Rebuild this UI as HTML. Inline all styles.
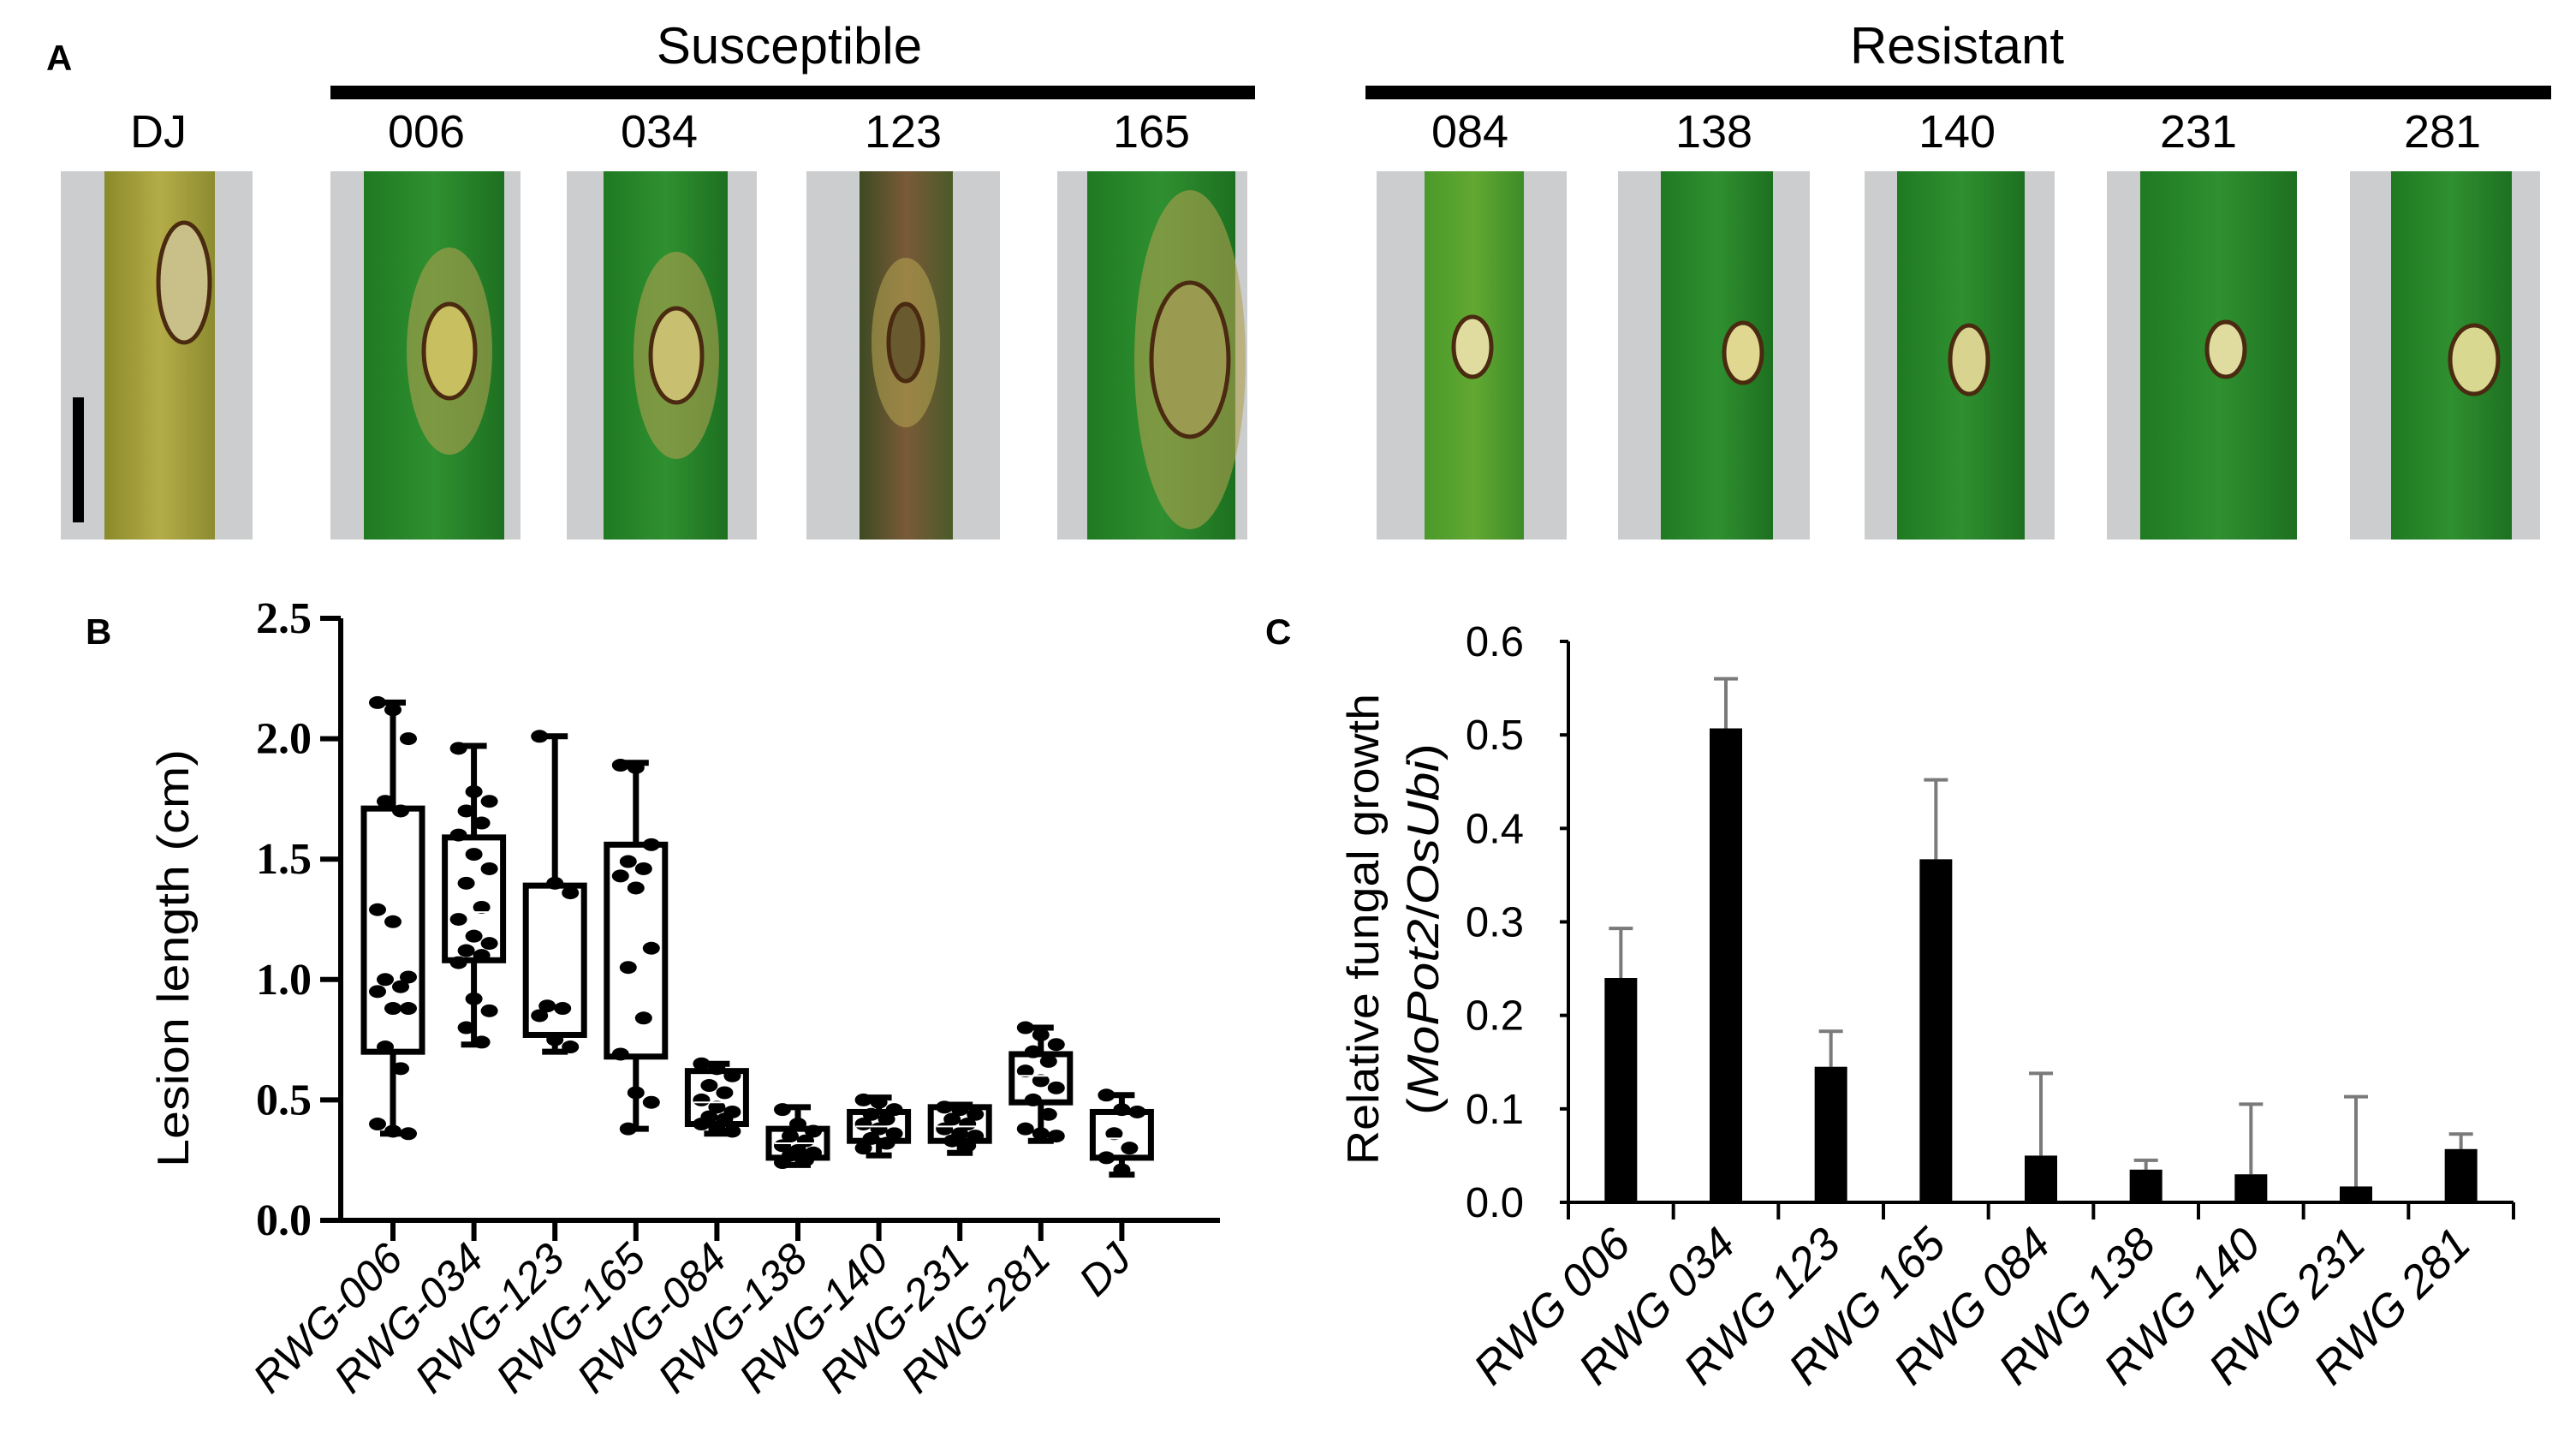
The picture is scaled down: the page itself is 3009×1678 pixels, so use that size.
<!DOCTYPE html>
<html><head><meta charset="utf-8">
<style>
html,body{margin:0;padding:0;background:#fff;}
svg{display:block;}
text{font-family:"Liberation Sans",Arial,sans-serif;}
.serif{font-family:"Liberation Serif","Times New Roman",serif;font-weight:bold;}
</style></head>
<body>
<svg id="fig" xmlns="http://www.w3.org/2000/svg" width="3009" height="1678" viewBox="0 0 3009 1678">
<defs>
<linearGradient id="gGreen" x1="0" x2="1" y1="0" y2="0">
<stop offset="0" stop-color="#1f7a22"/><stop offset="0.5" stop-color="#2f9030"/><stop offset="1" stop-color="#1d7020"/></linearGradient>
<linearGradient id="gLight" x1="0" x2="1"><stop offset="0" stop-color="#4a9a2a"/><stop offset="0.5" stop-color="#62a832"/><stop offset="1" stop-color="#3e8c28"/></linearGradient>
<linearGradient id="gYellow" x1="0" x2="1"><stop offset="0" stop-color="#8a8a2a"/><stop offset="0.5" stop-color="#b4ac48"/><stop offset="1" stop-color="#8c8c30"/></linearGradient>
<linearGradient id="gBrown" x1="0" x2="1"><stop offset="0" stop-color="#3d4a22"/><stop offset="0.5" stop-color="#7a5a38"/><stop offset="1" stop-color="#4a5a28"/></linearGradient>
</defs>

<g id="panelA">
<text x="54" y="82" font-size="42" font-weight="bold">A</text>
<text x="922" y="74" font-size="60" text-anchor="middle">Susceptible</text>
<rect x="386" y="100" width="1080" height="16" fill="#000"/>
<text x="2286" y="74" font-size="60" text-anchor="middle">Resistant</text>
<rect x="1595" y="100" width="1385" height="16" fill="#000"/>
<g id="leaves"></g>
</g>

<g id="panelB">
<text x="100" y="752" font-size="42" font-weight="bold">B</text>
<text transform="translate(220,1119) rotate(-90)" font-size="52" text-anchor="middle" textLength="488" lengthAdjust="spacingAndGlyphs">Lesion length  (cm)</text>
<g id="bAxes"></g>
<g id="bMarks"></g>
</g>

<g id="panelC">
<text x="1478" y="752" font-size="42" font-weight="bold">C</text>
<text transform="translate(1610,1085) rotate(-90)" font-size="52" text-anchor="middle" textLength="550" lengthAdjust="spacingAndGlyphs">Relative fungal growth</text>
<text transform="translate(1680,1085) rotate(-90)" font-size="52" text-anchor="middle" textLength="434" lengthAdjust="spacingAndGlyphs">(<tspan font-style="italic">MoPot2</tspan>/<tspan font-style="italic">OsUbi</tspan>)</text>
<g id="cAxes"></g>
<g id="cMarks"></g>
</g>
</svg>
<script>
// ---- Panel A data ----
const leafLabels = ["DJ","006","034","123","165","084","138","140","231","281"];
const leafLabelX = [185,498,770,1055,1345,1717,2002,2286,2568,2853];
// ---- Panel B data ----
const bCats = ["RWG-006","RWG-034","RWG-123","RWG-165","RWG-084","RWG-138","RWG-140","RWG-231","RWG-281","DJ"];
const bYTicks = ["0.0","0.5","1.0","1.5","2.0","2.5"];
const bMax = [2.15,1.97,2.01,1.90,0.65,0.47,0.51,0.48,0.80,0.52];
const bQ3  = [1.71,1.59,1.39,1.56,0.62,0.38,0.45,0.47,0.69,0.45];
const bMed = [1.13,1.28,1.10,1.20,0.49,0.32,0.39,0.39,0.60,0.34];
const bQ1  = [0.70,1.08,0.77,0.68,0.40,0.26,0.33,0.33,0.49,0.26];
const bMin = [0.36,0.73,0.70,0.38,0.36,0.23,0.27,0.28,0.33,0.19];
const bPoints = [
 [2.15,2.12,2.0,1.74,1.70,1.29,1.24,1.01,1.0,0.97,0.95,0.88,0.88,0.72,0.63,0.40,0.37,0.36],
 [1.96,1.78,1.74,1.70,1.65,1.60,1.52,1.46,1.40,1.30,1.25,1.18,1.15,1.12,1.10,1.07,0.92,0.87,0.80,0.74],
 [2.01,1.40,1.36,0.89,0.88,0.85,0.75,0.72],
 [1.89,1.88,1.56,1.49,1.46,1.43,1.38,1.13,1.05,0.84,0.69,0.53,0.49,0.38],
 [0.65,0.63,0.60,0.56,0.53,0.50,0.47,0.45,0.43,0.42,0.40,0.38,0.37],
 [0.46,0.40,0.37,0.35,0.33,0.31,0.29,0.28,0.27,0.25,0.24],
 [0.50,0.49,0.46,0.44,0.42,0.40,0.38,0.36,0.34,0.32,0.30],
 [0.47,0.46,0.44,0.42,0.40,0.38,0.36,0.35,0.33,0.31],
 [0.80,0.77,0.73,0.70,0.66,0.62,0.58,0.55,0.50,0.44,0.38,0.36,0.35],
 [0.52,0.46,0.45,0.36,0.30,0.26,0.21]
];
// ---- Panel C data ----
const cCats = ["RWG 006","RWG 034","RWG 123","RWG 165","RWG 084","RWG 138","RWG 140","RWG 231","RWG 281"];
const cYTicks = ["0.0","0.1","0.2","0.3","0.4","0.5","0.6"];
const cVals = [0.240,0.507,0.145,0.367,0.050,0.035,0.030,0.017,0.057];
const cErrTop = [0.293,0.560,0.183,0.452,0.138,0.045,0.105,0.113,0.073];

const NS="http://www.w3.org/2000/svg";
function mk(tag, attrs, parent){const e=document.createElementNS(NS,tag);for(const k in attrs)e.setAttribute(k,attrs[k]);parent.appendChild(e);return e;}

// ---- Panel A drawing ----
(function(){
 const g=document.getElementById('leaves');
 const panels=[[71,295,122,251,'gYellow'],[386,608,425,589,'gGreen'],[662,884,705,850,'gGreen'],[942,1168,1004,1113,'gBrown'],[1235,1457,1270,1443,'gGreen'],[1608,1830,1664,1780,'gLight'],[1890,2114,1940,2071,'gGreen'],[2178,2400,2216,2365,'gGreen'],[2461,2683,2500,2683,'gGreen'],[2745,2967,2793,2934,'gGreen']];
 const lesion=[[215,330,30,70,'#c8c088'],[525,410,30,55,'#c8c060'],[790,415,30,55,'#c8c070'],[1058,400,20,45,'#6a5a30'],[1390,420,45,90,'#9a9a50'],[1720,405,22,35,'#e0dca0'],[2036,412,22,35,'#e0d890'],[2300,420,22,40,'#d8d490'],[2600,408,22,32,'#e0dca0'],[2890,420,28,40,'#d8d890']];
 leafLabels.forEach((lab,i)=>{
  const p=panels[i];
  const pg=mk('g',{},g);
  
  
  mk('rect',{x:p[0],y:200,width:p[1]-p[0],height:430,fill:'#cbcdce'},pg);
  mk('rect',{x:p[2],y:200,width:p[3]-p[2],height:430,fill:'url(#'+p[4]+')'},pg);
  const l=lesion[i];
  if(i>=1&&i<=4) mk('ellipse',{cx:l[0],cy:l[1],rx:l[2]+20,ry:l[3]*2.2,fill:'#b0a050',opacity:0.6},pg);
  mk('ellipse',{cx:l[0],cy:l[1],rx:l[2],ry:l[3],fill:l[4],stroke:'#4a2a10','stroke-width':5},pg);
  const t=mk('text',{x:leafLabelX[i],y:172,'font-size':54,'text-anchor':'middle'},g);
  t.textContent=lab;
  
  
 });
 const sb=mk('rect',{x:85,y:464,width:13,height:146,fill:'#000'},g);
 
 
})();

// ---- Panel B drawing ----
(function(){
 const ax=document.getElementById('bAxes'), mg=document.getElementById('bMarks');
 const x0=398, xEnd=1425, y0=1425, yTop=722, vMax=2.5;
 const ys=v=>y0-(v/vMax)*(y0-yTop);
 const xs=i=>459+i*94.6;
 const ya=mk('line',{x1:x0,y1:yTop,x2:x0,y2:y0+2,stroke:'#000','stroke-width':6},ax);
 
 
 const xa=mk('line',{x1:x0-3,y1:y0,x2:xEnd,y2:y0,stroke:'#000','stroke-width':6},ax);
 
 
 bYTicks.forEach(t=>{
  const y=ys(parseFloat(t));
  mk('line',{x1:x0-24,y1:y,x2:x0,y2:y,stroke:'#000','stroke-width':6},ax);
  const tx=mk('text',{x:x0-34,y:y+17,'font-size':52,'text-anchor':'end',class:'serif'},ax);
  tx.textContent=t;
  
  
 });
 bCats.forEach((c,i)=>{
  const x=xs(i);
  mk('line',{x1:x,y1:y0,x2:x,y2:y0+24,stroke:'#000','stroke-width':6},ax);
  const tx=mk('text',{transform:'translate('+(x+14)+','+(y0+48)+') rotate(-45)','font-size':50,'font-style':'italic','text-anchor':'end'},ax);
  tx.textContent=c;
  
  
  const bg=mk('g',{},mg);
  
  
  const w=68;
  mk('line',{x1:x,y1:ys(bMax[i]),x2:x,y2:ys(bQ3[i]),stroke:'#000','stroke-width':7},bg);
  mk('line',{x1:x,y1:ys(bQ1[i]),x2:x,y2:ys(bMin[i]),stroke:'#000','stroke-width':7},bg);
  mk('line',{x1:x-15,y1:ys(bMax[i]),x2:x+15,y2:ys(bMax[i]),stroke:'#000','stroke-width':7},bg);
  mk('line',{x1:x-15,y1:ys(bMin[i]),x2:x+15,y2:ys(bMin[i]),stroke:'#000','stroke-width':7},bg);
  mk('rect',{x:x-w/2,y:ys(bQ3[i]),width:w,height:ys(bQ1[i])-ys(bQ3[i]),fill:'none',stroke:'#000','stroke-width':7},bg);
  bPoints[i].forEach((v,j)=>{
   const off=((j*7)%5-2)*9;
   mk('ellipse',{cx:x+off,cy:ys(v),rx:10,ry:7.5,fill:'#000'},bg);
  });
  mk('line',{x1:x-w/2+7,y1:ys(bMed[i]),x2:x+w/2-7,y2:ys(bMed[i]),stroke:'#fff','stroke-width':2},bg);
 });
})();

// ---- Panel C drawing ----
(function(){
 const ax=document.getElementById('cAxes'), mg=document.getElementById('cMarks');
 const x0=1832, xEnd=2936, y0=1404, yTop=749, vMax=0.6;
 const ys=v=>y0-(v/vMax)*(y0-yTop);
 const step=(xEnd-x0)/cCats.length;
 const xs=i=>x0+step*(i+0.5);
 const ya=mk('line',{x1:x0,y1:yTop,x2:x0,y2:y0,stroke:'#000','stroke-width':4},ax);
 
 
 const xa=mk('line',{x1:x0,y1:y0,x2:xEnd,y2:y0,stroke:'#000','stroke-width':4},ax);
 
 
 cYTicks.forEach(t=>{
  const y=ys(parseFloat(t));
  mk('line',{x1:x0-10,y1:y,x2:x0,y2:y,stroke:'#000','stroke-width':4},ax);
  const tx=mk('text',{x:1780,y:y+17,'font-size':49,'text-anchor':'end'},ax);
  tx.textContent=t;
  
  
 });
 for(let k=0;k<=cCats.length;k++){
  const x=x0+step*k;
  mk('line',{x1:x,y1:y0,x2:x,y2:y0+20,stroke:'#000','stroke-width':4},ax);
 }
 cCats.forEach((c,i)=>{
  const x=xs(i);
  const tx=mk('text',{transform:'translate('+(x+14)+','+(y0+52)+') rotate(-45)','font-size':53,'font-style':'italic','text-anchor':'end'},ax);
  tx.textContent=c;
  
  
  const e=mk('line',{x1:x,y1:ys(cErrTop[i]),x2:x,y2:ys(cVals[i]),stroke:'#7a7a7a','stroke-width':4},mg);
  
  
  mk('line',{x1:x-14,y1:ys(cErrTop[i]),x2:x+14,y2:ys(cErrTop[i]),stroke:'#7a7a7a','stroke-width':4},mg);
  const b=mk('rect',{x:x-19,y:ys(cVals[i]),width:38,height:y0-ys(cVals[i]),fill:'#000'},mg);
  
  
 });
})();
</script>
</body></html>
